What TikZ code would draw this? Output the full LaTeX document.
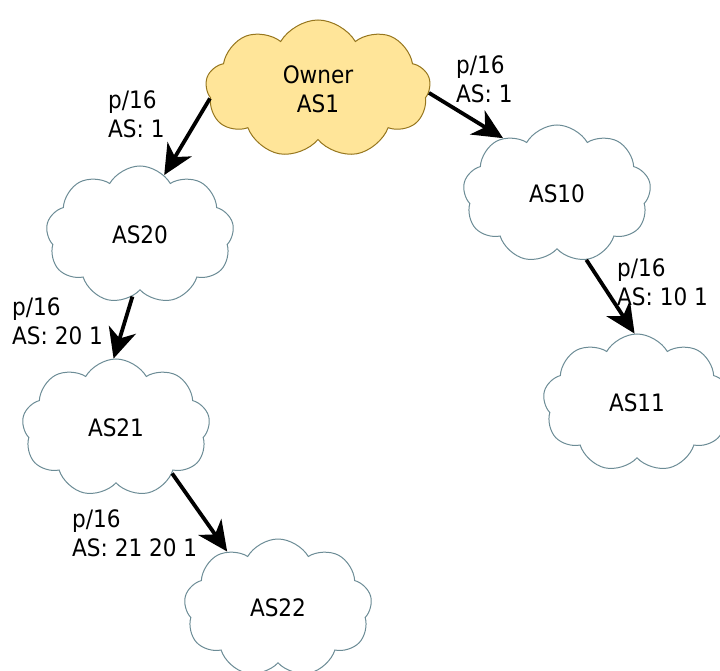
\documentclass[tikz,border=0pt]{standalone}
\usepackage{fontspec}
\setmainfont{DejaVu Sans Condensed}
\usetikzlibrary{shapes.symbols,arrows.meta}
\definecolor{asline}{RGB}{108,140,150}
\definecolor{ownerfill}{RGB}{255,229,153}
\definecolor{ownerline}{RGB}{150,118,30}

\begin{document}
\begin{tikzpicture}[
        x=1pt,y=1pt,
        as/.style={
          cloud,
          cloud puffs=9,
          cloud puff arc=120,
          draw=asline,
          fill=white,
          line width=1pt,
          minimum width=188pt,
          minimum height=138pt,
          font=\fontsize{24}{29}\selectfont
        },
        owner/.style={
          as,
          align=center,
          draw=ownerline,
          fill=ownerfill,
          minimum width=225pt
        },
        route/.style={
          -{Stealth[length=30pt,width=28pt,inset=9pt]},
          line width=3.8pt
        },
        info/.style={
          align=left,
          anchor=west,
          inner sep=0pt,
          font=\fontsize{24}{29}\selectfont
        }
      ]
        \useasboundingbox (0,0) rectangle (720,670);

        \node[owner] (owner) at (318,581) {Owner\\AS1};
        \foreach \k/\x/\y in {10/557/476,20/140/435,21/116/242,11/637/267,22/278/62}
          \node[as] (as\k) at (\x,\y) {AS\k};

        \foreach \k/\x/\y/\p in {a/108/556/1,b/456/591/1,c/12/349/20 1,d/617/388/10 1,e/72/137/21 20 1}
          \node[info] (path\k) at (\x,\y) {p/16\\AS: \p};

        \draw[route] (owner.185) -- (as20.68);
        \draw[route] (owner.-2) -- (as10.134);
        \draw[route] (as20.263) -- (as21.92);
        \draw[route] (as10.294) -- (as11.92);
        \draw[route] (as21.321) -- (as22.132);
      \end{tikzpicture}
\end{document}
